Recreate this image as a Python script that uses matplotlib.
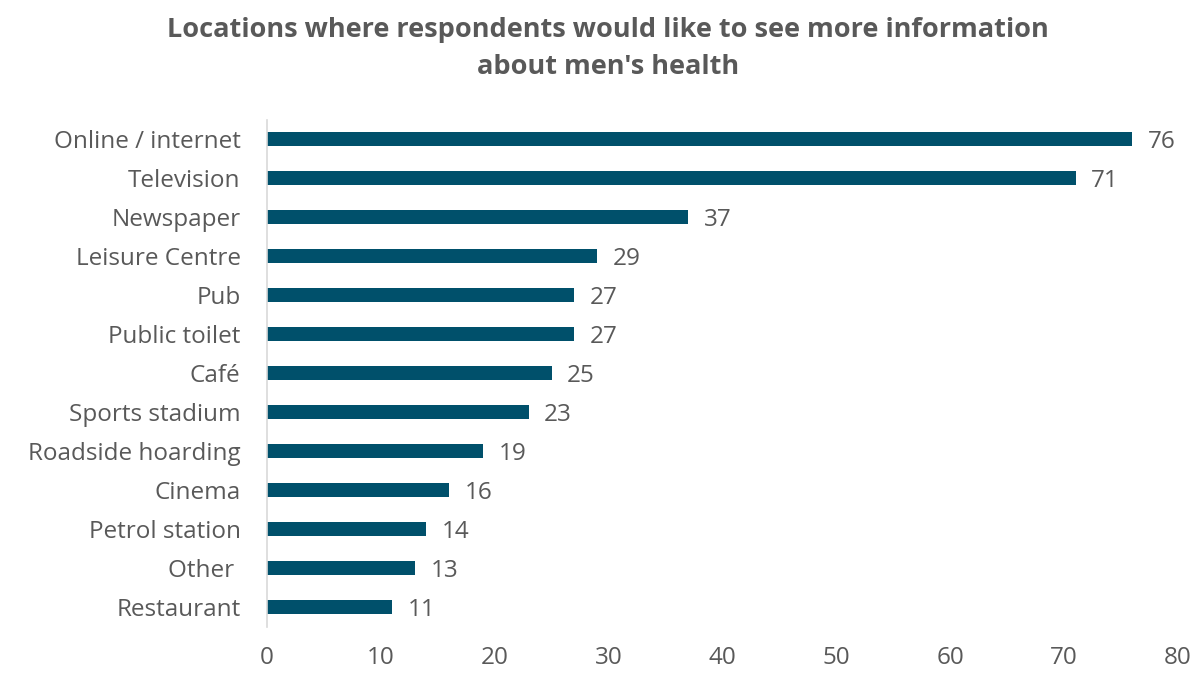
import matplotlib
matplotlib.use("Agg")
import matplotlib.pyplot as plt

categories = ["Online / internet", "Television", "Newspaper", "Leisure Centre", "Pub",
              "Public toilet", "Café", "Sports stadium", "Roadside hoarding", "Cinema",
              "Petrol station", "Other ", "Restaurant"]
values = [76, 71, 37, 29, 27, 27, 25, 23, 19, 16, 14, 13, 11]
x_ticks = [0, 10, 20, 30, 40, 50, 60, 70, 80]

title = "Locations where respondents would like to see more information\nabout men's health"

BAR = "#00506B"
TEXT = "#595959"
AXIS = "#D9D9D9"

plt.rcParams["font.family"] = ["Open Sans", "DejaVu Sans"]

W, H = 1197, 674
fig = plt.figure(figsize=(W / 100, H / 100), dpi=100)
ax = fig.add_axes([267 / W, 1 - 626.5 / H, (1178 - 267) / W, (626.5 - 119.5) / H])

y = list(range(len(categories)))
ax.barh(y, values, height=0.36, color=BAR)
ax.set_ylim(len(categories) - 0.5, -0.5)
ax.set_xlim(0, 80)

ax.set_yticks(y)
ax.set_yticklabels(categories, fontsize=17.5, color=TEXT)
ax.set_xticks(x_ticks)
ax.set_xticklabels([str(t) for t in x_ticks], fontsize=17.5, color=TEXT)
ax.tick_params(axis="both", length=0)
ax.tick_params(axis="y", pad=19)
ax.tick_params(axis="x", pad=14)

for s in ("top", "right", "bottom"):
    ax.spines[s].set_visible(False)
ax.spines["left"].set_color(AXIS)
ax.spines["left"].set_linewidth(1.2)

for yi, v in zip(y, values):
    ax.annotate(str(v), (v, yi), xytext=(11, -2), textcoords="offset points",
                va="center", ha="left", fontsize=17.5, color=TEXT)

fig.text(608 / W, 1 - 48.5 / H, title, ha="center", va="center", fontsize=19.5,
         fontweight="bold", color=TEXT, linespacing=1.55)

fig.savefig("out.png", dpi=100, facecolor="white")
